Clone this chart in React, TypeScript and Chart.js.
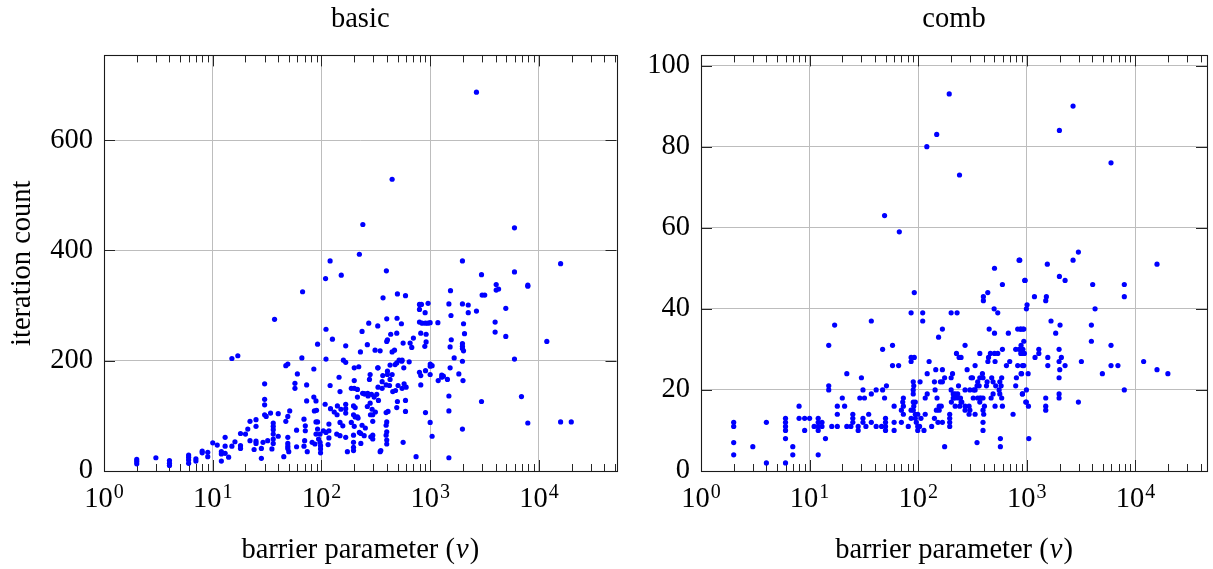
import React, { useEffect, useRef } from 'react';
import { Chart, registerables } from 'chart.js';

Chart.register(...registerables);

// ---------- data: [barrier parameter ν, iteration count] ----------
const basicPoints: [number, number][] = [
  [2, 21], [2, 17], [2, 13], [3, 24], [4, 19], [4, 14], [4, 10], [6, 29], [6, 25], [6, 20],
  [6, 14], [7, 22], [7, 18], [8, 36], [8, 33], [9, 34], [9, 26], [10, 51], [11, 47], [12, 35],
  [12, 31], [12, 18], [13, 61], [13, 45], [13, 32], [14, 25], [15, 45], [15, 204], [17, 209], [16, 53],
  [18, 68], [18, 46], [18, 41], [20, 67], [21, 76], [22, 90], [22, 55], [24, 39], [25, 93], [25, 81],
  [25, 54], [25, 50], [28, 41], [28, 23], [29, 52], [30, 158], [30, 130], [30, 120], [30, 102], [31, 99],
  [32, 55], [34, 105], [35, 40], [36, 87], [36, 81], [36, 75], [36, 67], [36, 58], [36, 50], [37, 275],
  [40, 63], [40, 104], [45, 26], [47, 90], [49, 99], [49, 61], [49, 50], [49, 45], [49, 41], [50, 35],
  [47, 191], [49, 194], [51, 109], [57, 159], [57, 150], [59, 74], [59, 44], [60, 176],
  [66, 205], [67, 325], [73, 156], [73, 127], [85, 185], [85, 134], [89, 127], [90, 110], [86, 109], [92, 230],
  [69, 94], [71, 82], [71, 73], [70, 55], [69, 45], [74, 35], [89, 89], [92, 89], [92, 76], [89, 67],
  [97, 67], [82, 52], [87, 49], [94, 58], [97, 52], [98, 46], [98, 40], [98, 33], [104, 73],
  [108, 121], [117, 85], [117, 73], [110, 70], [117, 60], [115, 48], [121, 113], [120, 155], [138, 67], [148, 64],
  [131, 107], [139, 102], [145, 170], [148, 144], [140, 118], [151, 112], [148, 88], [157, 82], [167, 121], [167, 113],
  [167, 105], [167, 61], [188, 150], [200, 150], [214, 148], [200, 164], [197, 118], [204, 115], [197, 102], [188, 88],
  [204, 98], [217, 96], [200, 81], [197, 65], [197, 52], [197, 43], [197, 37], [173, 35], [230, 68], [253, 78],
  [214, 134], [239, 141], [250, 140],
  [110, 257], [126, 239], [110, 203], [167, 227], [159, 201], [167, 197], [200, 187], [220, 189], [228, 216], [236, 253],
  [272, 268], [264, 229], [329, 263], [368, 314], [311, 219], [346, 218], [329, 187], [398, 276], [404, 238], [433, 248],
  [398, 235], [499, 321], [592, 318], [495, 277], [492, 250], [543, 267], [563, 232], [469, 219], [446, 216], [653, 232],
  [700, 241], [676, 224], [796, 302], [830, 302], [955, 304], [796, 293], [897, 287], [904, 268], [796, 270], [842, 268],
  [955, 268], [818, 250], [916, 248], [891, 226], [916, 234],
  [404, 181], [427, 192], [404, 175], [492, 196], [517, 201], [551, 201], [475, 193], [547, 199], [640, 198], [571, 187],
  [366, 173], [427, 166], [446, 175], [331, 187], [331, 152], [361, 162], [280, 175], [276, 166], [247, 140], [266, 141],
  [288, 139], [322, 139], [334, 128], [305, 134], [292, 112], [280, 123], [313, 107], [296, 102], [282, 102], [264, 117],
  [268, 136], [361, 150], [393, 156], [422, 155], [506, 155], [479, 146], [452, 144], [551, 150], [575, 158], [600, 152],
  [592, 128], [592, 108], [499, 126], [492, 115], [409, 108], [393, 106], [398, 89], [393, 83], [398, 71], [393, 65],
  [398, 56], [398, 49], [351, 37], [346, 35], [296, 90], [296, 65], [296, 58], [284, 62], [236, 83], [223, 70],
  [214, 98], [247, 64], [230, 50], [563, 52], [741, 26], [904, 106], [818, 156], [796, 179], [818, 173], [904, 182],
  [446, 529], [240, 447], [223, 393], [120, 381], [152, 355], [109, 349], [395, 363],
  [2660, 687], [5950, 441], [1977, 381], [15800, 376], [2960, 356], [5950, 361], [1535, 327], [4040, 338], [4250, 330], [4040, 328],
  [7890, 337], [7890, 335], [3000, 319], [3170, 319], [1484, 303], [1977, 303], [2235, 301], [1551, 282], [2660, 290], [2235, 287],
  [4950, 295], [998, 269], [1175, 269], [2023, 267], [3950, 270], [2066, 249], [3950, 252], [4950, 244], [1560, 238], [1523, 225],
  [1977, 231], [1977, 226], [1977, 222], [2023, 218], [11800, 235], [1660, 205], [1977, 199], [5950, 203], [1000, 194], [1040, 191],
  [1000, 190], [1523, 187], [998, 175], [1275, 174], [1275, 170], [1183, 164], [1832, 176], [2000, 164], [1484, 136], [2960, 126],
  [6900, 135], [1484, 109], [998, 88], [1040, 63], [1977, 76], [7890, 87], [15800, 89], [19800, 89], [1484, 24], [1321, 172],
  [1439, 166],
];

const combPoints: [number, number][] = [
  [2, 12], [2, 11], [2, 7], [2, 4], [3, 6], [4, 12], [4, 2], [6, 13], [6, 12], [6, 11],
  [6, 10], [6, 8], [6, 2], [7, 6], [7, 4], [8, 16], [8, 13], [9, 13], [9, 10], [10, 13],
  [11, 11], [12, 13], [12, 12], [12, 11], [12, 10], [12, 4], [13, 12], [13, 11], [14, 8], [15, 31],
  [15, 21], [15, 20], [16, 11], [17, 36], [18, 16], [18, 14], [18, 11], [20, 18], [21, 16], [22, 24],
  [22, 11], [24, 11], [25, 14], [25, 13], [25, 12], [28, 11], [28, 10], [29, 18], [30, 23], [31, 20],
  [31, 13], [31, 12], [32, 18], [33, 11], [35, 14], [37, 37], [37, 19], [37, 12], [41, 20], [41, 11],
  [46, 11], [47, 30], [47, 20], [49, 18], [50, 13], [50, 12], [50, 11], [50, 10], [51, 21], [58, 31],
  [58, 26], [60, 16], [60, 12], [60, 10], [66, 26], [49, 63], [67, 59],
  [70, 15], [72, 17], [73, 18], [73, 16], [73, 14], [70, 12], [81, 11], [86, 39], [86, 27], [86, 28],
  [86, 13], [86, 15], [90, 22], [91, 21], [90, 20], [90, 19], [90, 17], [91, 16], [90, 15], [94, 14],
  [94, 13], [96, 12], [99, 11], [99, 10], [113, 10], [94, 17], [92, 44], [92, 28], [110, 39], [110, 37],
  [103, 11], [106, 13], [99, 14], [116, 18], [121, 19], [116, 14], [121, 24], [126, 27], [133, 11], [141, 13],
  [141, 22], [143, 20], [145, 25], [147, 15], [149, 18], [152, 12], [154, 33], [156, 16], [156, 15], [160, 22],
  [163, 16], [167, 35], [167, 25], [167, 22], [167, 12], [175, 23], [175, 6], [195, 14], [195, 13], [195, 12],
  [195, 11], [201, 39], [201, 23], [201, 20], [202, 17], [207, 24], [210, 19], [210, 18], [219, 19], [219, 16],
  [219, 18], [225, 29], [228, 39], [231, 19], [235, 21], [235, 18], [238, 28], [241, 16], [245, 18], [248, 28],
  [248, 17], [252, 17], [270, 31], [270, 20], [270, 16], [270, 15], [282, 25], [294, 16], [294, 14], [299, 15],
  [321, 18], [334, 20], [334, 14], [348, 7], [352, 18], [369, 29], [369, 23], [369, 18], [369, 17], [379, 18],
  [390, 24], [395, 23], [395, 18], [395, 15], [395, 12], [395, 10], [398, 43], [398, 42], [401, 14], [407, 16],
  [425, 21], [431, 22], [437, 44], [438, 27], [444, 28], [450, 35], [462, 29], [469, 18], [475, 23], [489, 22],
  [489, 19], [500, 40], [504, 50], [504, 34], [504, 29], [510, 27], [510, 16], [517, 21], [540, 39], [540, 29],
  [556, 20], [564, 22], [564, 19], [571, 8], [571, 6], [580, 21], [587, 23], [587, 18], [596, 46], [596, 30],
  [596, 16], [649, 26], [676, 34], [696, 27], [747, 14], [790, 30], [790, 21], [802, 23], [824, 35], [824, 26],
  [849, 30], [849, 52], [873, 35], [885, 31], [885, 24], [910, 19], [938, 35], [938, 32], [938, 26], [964, 47],
  [977, 17], [348, 21], [364, 21], [325, 20], [299, 20], [334, 26], [316, 23], [353, 22], [307, 23], [104, 22],
  [2665, 90], [1995, 84], [5960, 76], [2985, 54], [861, 52], [2665, 52], [1545, 51], [15800, 51], [957, 47], [1995, 48],
  [2250, 47], [4040, 46], [7900, 46], [7900, 43], [1175, 43], [1514, 43], [1493, 42], [1005, 41], [991, 40], [4250, 40],
  [1670, 37], [2023, 36], [1845, 34], [3930, 36], [3930, 32], [5960, 31], [880, 35], [920, 35], [920, 30], [900, 29],
  [950, 29], [880, 29], [1290, 30], [1290, 29], [1190, 28], [1560, 28], [1560, 26], [1982, 30], [2080, 28], [1982, 27],
  [2010, 25], [2250, 26], [1982, 23], [3180, 27], [5960, 26], [6900, 26], [4960, 24], [11900, 27], [15800, 25], [19900, 24],
  [912, 26], [895, 24], [1028, 24], [912, 19], [991, 20], [991, 17], [1035, 16], [1493, 16], [1493, 15], [1493, 18],
  [1982, 19], [1982, 18], [2985, 17], [7900, 20], [1043, 8],
  [193, 93], [148, 83], [120, 80], [240, 73],
];

const xTickValues = [1, 10, 100, 1000, 10000];
const xTickBase = '10';
const xTickExponents = ['0', '1', '2', '3', '4'];
const minorMultipliers = [2, 3, 4, 5, 6, 7, 8, 9];
const basicYTicks = [0, 200, 400, 600];
const combYTicks = [0, 20, 40, 60, 80, 100];
const xAxisTitleParts = ['barrier parameter (', 'ν', ')'];
const yAxisTitle = 'iteration count';

const FONT_FAMILY = "'Liberation Serif', 'DejaVu Serif', serif";
const FONT_SIZE = 28.5;
const SUP_SIZE = 20;
const CANVAS_H = 569;

type PanelCfg = {
  title: string;
  points: [number, number][];
  yTicks: number[];
  yMax: number;
  xMax: number;
  yTitle: string | null;
  left: number;
  width: number;
  yAxisWidth: number;
  padRight: number;
};

const panels: PanelCfg[] = [
  { title: 'basic', points: basicPoints, yTicks: basicYTicks, yMax: 753.6, xMax: 51600, yTitle: yAxisTitle, left: 0, width: 640, yAxisWidth: 104, padRight: 23.5 },
  { title: 'comb', points: combPoints, yTicks: combYTicks, yMax: 102.5, xMax: 45600, yTitle: null, left: 640, width: 573, yAxisWidth: 61, padRight: 6 },
];

const MAJOR_LEN = 11;
const MINOR_LEN = 7;

const axisDecor = {
  id: 'axisDecor',
  beforeDatasetsDraw(chart: any) {
    const { ctx, chartArea: a, scales } = chart;
    const x = scales.x;
    const y = scales.y;
    const al = (v: number) => Math.round(v) + 0.5;
    ctx.save();
    ctx.strokeStyle = '#262626';
    ctx.lineWidth = 1;
    ctx.beginPath();
    for (const d of xTickValues) {
      if (d >= x.min && d <= x.max) {
        const px = al(x.getPixelForValue(d));
        ctx.moveTo(px, a.bottom); ctx.lineTo(px, a.bottom - MAJOR_LEN);
        ctx.moveTo(px, a.top); ctx.lineTo(px, a.top + MAJOR_LEN);
      }
      for (const m of minorMultipliers) {
        const v = d * m;
        if (v <= x.min || v >= x.max) continue;
        const px = al(x.getPixelForValue(v));
        ctx.moveTo(px, a.bottom); ctx.lineTo(px, a.bottom - MINOR_LEN);
        ctx.moveTo(px, a.top); ctx.lineTo(px, a.top + MINOR_LEN);
      }
    }
    for (const t of y.ticks) {
      const py = al(y.getPixelForValue(t.value));
      ctx.moveTo(a.left, py); ctx.lineTo(a.left + MAJOR_LEN, py);
      ctx.moveTo(a.right, py); ctx.lineTo(a.right - MAJOR_LEN, py);
    }
    ctx.stroke();
    ctx.strokeStyle = '#1a1a1a';
    ctx.lineWidth = 1.1;
    ctx.strokeRect(al(a.left), al(a.top), Math.round(a.right) - Math.round(a.left), Math.round(a.bottom) - Math.round(a.top));

    // x tick labels: 10 with raised exponent
    ctx.fillStyle = '#000';
    ctx.textBaseline = 'alphabetic';
    ctx.textAlign = 'left';
    const baseFont = `${FONT_SIZE}px ${FONT_FAMILY}`;
    const supFont = `${SUP_SIZE}px ${FONT_FAMILY}`;
    const baseY = a.bottom + 36;
    xTickValues.forEach((v, i) => {
      if (v < x.min || v > x.max) return;
      const px = x.getPixelForValue(v);
      ctx.font = baseFont;
      const w1 = ctx.measureText(xTickBase).width;
      ctx.font = supFont;
      const w2 = ctx.measureText(xTickExponents[i]).width;
      const start = px - (w1 + w2 + 1) / 2;
      ctx.font = baseFont;
      ctx.fillText(xTickBase, start, baseY);
      ctx.font = supFont;
      ctx.fillText(xTickExponents[i], start + w1 + 1, baseY - 9);
    });

    // x axis title with italic nu
    const [pre, sym, post] = xAxisTitleParts;
    const italicFont = `italic ${FONT_SIZE}px ${FONT_FAMILY}`;
    ctx.font = baseFont;
    const wPre = ctx.measureText(pre).width;
    const wPost = ctx.measureText(post).width;
    ctx.font = italicFont;
    const wSym = ctx.measureText(sym).width + 2;
    const cx = (a.left + a.right) / 2;
    let sx = cx - (wPre + wSym + wPost) / 2;
    const ty = a.bottom + 87;
    ctx.font = baseFont;
    ctx.fillText(pre, sx, ty);
    sx += wPre;
    ctx.font = italicFont;
    ctx.fillText(sym, sx + 1, ty);
    sx += wSym;
    ctx.font = baseFont;
    ctx.fillText(post, sx, ty);
    ctx.restore();
  },
};

function buildConfig(p: PanelCfg): any {
  const font = { family: FONT_FAMILY, size: FONT_SIZE, weight: 'normal' as const };
  return {
    type: 'scatter',
    data: {
      datasets: [
        {
          data: p.points.map(([x, y]) => ({ x, y })),
          backgroundColor: '#0000ff',
          borderWidth: 0,
          pointRadius: 2.6,
          pointHoverRadius: 2.6,
        },
      ],
    },
    options: {
      responsive: false,
      animation: false,
      devicePixelRatio: 1,
      events: [],
      layout: { padding: { left: 0, right: p.padRight, top: 0, bottom: 0 } },
      plugins: {
        legend: { display: false },
        tooltip: { enabled: false },
        title: {
          display: true,
          text: p.title,
          fullSize: false,
          color: '#000',
          font,
          padding: { top: 2.9, bottom: 18.3 },
        },
      },
      scales: {
        x: {
          type: 'logarithmic',
          min: 1,
          max: p.xMax,
          afterBuildTicks: (s: any) => {
            s.ticks = xTickValues.map((v) => ({ value: v }));
          },
          afterFit: (s: any) => {
            s.height = CANVAS_H - 471;
          },
          ticks: { display: false, autoSkip: false, maxRotation: 0 },
          grid: { color: '#bdbdbd', lineWidth: 1, drawTicks: false },
          border: { display: false },
          title: { display: false },
        },
        y: {
          type: 'linear',
          min: 0,
          max: p.yMax,
          afterBuildTicks: (s: any) => {
            s.ticks = p.yTicks.map((v) => ({ value: v }));
          },
          afterFit: (s: any) => {
            s.width = p.yAxisWidth;
          },
          ticks: { font, color: '#000', padding: 11, autoSkip: false, callback: (v: any) => String(v) },
          grid: { color: '#bdbdbd', lineWidth: 1, drawTicks: false },
          border: { display: false },
          title: p.yTitle
            ? { display: true, text: p.yTitle, color: '#000', font, padding: { top: 5.6, bottom: 0 } }
            : { display: false },
        },
      },
    },
    plugins: [axisDecor],
  };
}

function Panel({ cfg }: { cfg: PanelCfg }) {
  const ref = useRef<HTMLCanvasElement>(null);
  useEffect(() => {
    if (!ref.current) return;
    const chart = new Chart(ref.current, buildConfig(cfg));
    return () => chart.destroy();
  }, [cfg]);
  return (
    <canvas
      ref={ref}
      width={cfg.width}
      height={CANVAS_H}
      style={{ position: 'absolute', left: cfg.left, top: 0, width: cfg.width, height: CANVAS_H, display: 'block' }}
    />
  );
}

export default function App() {
  return (
    <div style={{ position: 'absolute', left: 0, top: 0, width: 1213, height: CANVAS_H, background: '#fff', overflow: 'hidden' }}>
      {panels.map((p) => (
        <Panel key={p.title} cfg={p} />
      ))}
    </div>
  );
}
